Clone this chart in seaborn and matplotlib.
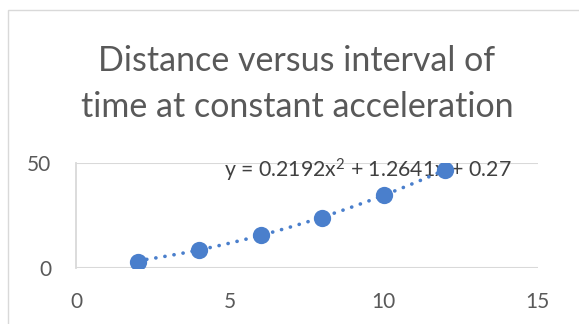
import numpy as np
import pandas as pd
import matplotlib
matplotlib.use("Agg")
import matplotlib.pyplot as plt
from matplotlib.patches import Rectangle
import seaborn as sns

# Measured distance at each time interval
time_s = [2, 4, 6, 8, 10, 12]
distance = [3.3, 8.7, 15.8, 24.0, 34.9, 46.8]

# Polynomial (order 2) trendline coefficients, highest power first
trend_coefs = [0.2192, 1.2641, 0.27]

x_ticks = [0, 5, 10, 15]
y_ticks = [0, 50]

title_lines = ["Distance versus interval of", "time at constant acceleration"]

sns.set_theme(style="white")
plt.rcParams["font.family"] = ["Lato", "DejaVu Sans"]
plt.rcParams["mathtext.fontset"] = "custom"
plt.rcParams["mathtext.rm"] = "Lato"
plt.rcParams["mathtext.it"] = "Lato"
plt.rcParams["mathtext.bf"] = "Lato"

GRAY_TEXT = "#595959"
GRID = "#D9D9D9"
BLUE = "#4A7FCC"

fig = plt.figure(figsize=(5.79, 3.24), dpi=100)
ax = fig.add_axes([0.1313, 0.1713, 0.7974, 0.3247])

df = pd.DataFrame({"time": time_s, "distance": distance})

# dotted polynomial trendline
xs = np.linspace(min(time_s), max(time_s), 200)
trend = pd.DataFrame({"time": xs, "distance": np.polyval(trend_coefs, xs)})
sns.lineplot(data=trend, x="time", y="distance", ax=ax, color=BLUE,
             linewidth=2.6, linestyle=(0, (0.05, 2.5)),
             solid_capstyle="round", dash_capstyle="round", zorder=2)

sns.scatterplot(data=df, x="time", y="distance", ax=ax, color=BLUE,
                s=155, edgecolor=BLUE, linewidth=0, zorder=3)

ax.set_xlim(0, 15)
ax.set_ylim(0, 50)
ax.set_xticks(x_ticks)
ax.set_yticks(y_ticks)
ax.set_xlabel("")
ax.set_ylabel("")

for s in ["top", "right", "bottom"]:
    ax.spines[s].set_visible(False)
ax.spines["left"].set_color(GRID)
ax.spines["left"].set_linewidth(1.3)
ax.yaxis.grid(True, color=GRID, linewidth=1.5)
ax.set_axisbelow(True)

ax.tick_params(axis="both", length=0, labelsize=15, colors=GRAY_TEXT)
ax.tick_params(axis="y", pad=18)
ax.tick_params(axis="x", pad=17)

# trendline equation
a, b, c = trend_coefs
ax.text(224 / 579, 1 - 178 / 324, f"y = {a}x$^{{2}}$ + {b}x + {c}",
        transform=fig.transFigure, fontsize=15.3, color="#404040",
        ha="left", va="baseline", zorder=1)

# chart title
fig.text(0.513, 1 - 71 / 324, title_lines[0], ha="center", va="baseline",
         fontsize=24.5, color=GRAY_TEXT)
fig.text(0.513, 1 - 117 / 324, title_lines[1], ha="center", va="baseline",
         fontsize=24.5, color=GRAY_TEXT)

# chart area border
fig.patches.append(Rectangle((8 / 579, -0.1), 1.2, 1 - 10 / 324 + 0.1,
                             transform=fig.transFigure, fill=False,
                             edgecolor=GRID, linewidth=1.0))

fig.savefig("out.png", dpi=100)
